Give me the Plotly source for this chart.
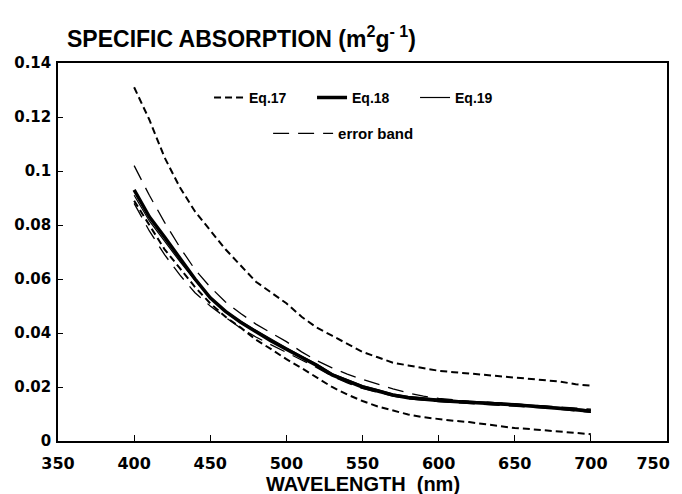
import plotly.graph_objects as go

wavelength = [400, 410, 420, 430, 440, 450, 460, 470, 480, 490, 500, 510, 520, 530, 540, 550,
              560, 570, 580, 590, 600, 610, 620, 630, 640, 650, 660, 670, 680, 690, 700]

eq17_upper = [0.131, 0.119, 0.105, 0.094, 0.085, 0.078, 0.071, 0.065, 0.059, 0.055, 0.051, 0.046,
              0.042, 0.039, 0.036, 0.033, 0.031, 0.029, 0.028, 0.027, 0.026, 0.0255, 0.025, 0.0245,
              0.024, 0.0235, 0.023, 0.0225, 0.022, 0.021, 0.0205]
eq17_lower = [0.089, 0.080, 0.071, 0.064, 0.057, 0.051, 0.046, 0.042, 0.0375, 0.034, 0.0303, 0.027,
              0.0235, 0.020, 0.0172, 0.0148, 0.0128, 0.0112, 0.0098, 0.0088, 0.0081, 0.0075, 0.007,
              0.0062, 0.0054, 0.0048, 0.0044, 0.004, 0.0035, 0.003, 0.0025]
eq18 = [0.093, 0.083, 0.0755, 0.0675, 0.060, 0.053, 0.048, 0.044, 0.0405, 0.037, 0.034, 0.031,
        0.028, 0.0245, 0.0222, 0.020, 0.0185, 0.017, 0.016, 0.0154, 0.015, 0.0146, 0.0142, 0.014,
        0.0137, 0.0134, 0.013, 0.0126, 0.0121, 0.0116, 0.011]
eq19 = [0.091, 0.0815, 0.074, 0.0665, 0.0595, 0.053, 0.0482, 0.0443, 0.041, 0.0376, 0.0345, 0.0315,
        0.0285, 0.025, 0.0227, 0.0205, 0.019, 0.0175, 0.0165, 0.0159, 0.0155, 0.0151, 0.0147,
        0.0144, 0.0141, 0.0138, 0.0134, 0.013, 0.0125, 0.012, 0.0114]
band_upper = [0.102, 0.091, 0.081, 0.0718, 0.0635, 0.057, 0.0515, 0.0472, 0.0433, 0.040, 0.0368,
              0.033, 0.0298, 0.0271, 0.0248, 0.0228, 0.021, 0.0193, 0.0178, 0.0166, 0.0158, 0.0152,
              0.0147, 0.0144, 0.0141, 0.0138, 0.0134, 0.013, 0.0126, 0.0122, 0.0118]
band_lower = [0.088, 0.0778, 0.069, 0.0615, 0.0549, 0.050, 0.0458, 0.0418, 0.0385, 0.0355, 0.0328,
              0.030, 0.0272, 0.024, 0.0215, 0.0195, 0.018, 0.0166, 0.0156, 0.015, 0.0146, 0.0142,
              0.0139, 0.0136, 0.0133, 0.013, 0.0126, 0.0122, 0.0117, 0.0112, 0.0106]

x_ticks = [350, 400, 450, 500, 550, 600, 650, 700, 750]
x_ticktext = ["350", "400", "450", "500", "550", "600", "650", "700",
              "750\u00a0\u00a0\u00a0\u00a0\u00a0"]
y_ticks = [0, 0.02, 0.04, 0.06, 0.08, 0.1, 0.12, 0.14]
y_ticktext = ["0", "0.02", "0.04", "0.06", "0.08", "0.1", "0.12", "0.14"]

FONT = "Liberation Sans, Arial, sans-serif"
TICKFONT = "DejaVu Sans, sans-serif"

fig = go.Figure()
band_dash = "16px,9px"
fig.add_trace(go.Scatter(x=wavelength, y=band_upper, mode="lines", name="error band",
                         line=dict(color="black", width=1.3, dash=band_dash),
                         legend="legend2", showlegend=True))
fig.add_trace(go.Scatter(x=wavelength, y=band_lower, mode="lines", name="error band",
                         line=dict(color="black", width=1.3, dash=band_dash),
                         legend="legend2", showlegend=False))
fig.add_trace(go.Scatter(x=wavelength, y=eq17_upper, mode="lines", name="Eq.17",
                         line=dict(color="black", width=2, dash="7px,4px"), legendrank=1))
fig.add_trace(go.Scatter(x=wavelength, y=eq17_lower, mode="lines", name="Eq.17",
                         line=dict(color="black", width=2, dash="7px,4px"), showlegend=False))
fig.add_trace(go.Scatter(x=wavelength, y=eq18, mode="lines", name="Eq.18",
                         line=dict(color="black", width=3.5), legendrank=2))
fig.add_trace(go.Scatter(x=wavelength, y=eq19, mode="lines", name="Eq.19",
                         line=dict(color="black", width=1.2), legendrank=3))

fig.update_layout(
    width=682, height=486,
    margin=dict(l=50, r=23, t=55, b=53, autoexpand=False),
    paper_bgcolor="white", plot_bgcolor="white",
    font=dict(family=FONT, color="black"),
    legend=dict(orientation="h", x=0.248, y=0.95, xanchor="left", yanchor="top",
                font=dict(size=14, family=FONT, weight="bold"), bgcolor="rgba(0,0,0,0)",
                entrywidth=58, traceorder="normal"),
    legend2=dict(orientation="h", x=0.345, y=0.857, xanchor="left", yanchor="top",
                 font=dict(size=15, family=FONT, weight="bold"), bgcolor="rgba(0,0,0,0)",
                 itemwidth=60),
    xaxis=dict(range=[350, 750], tickvals=x_ticks, ticktext=x_ticktext, ticks="inside",
               ticklen=6, tickwidth=1,
               tickcolor="black", showline=True, linecolor="black", linewidth=1.5, mirror=True,
               showgrid=False, zeroline=False, ticklabelstandoff=7, automargin=False,
               ticklabeloverflow="allow",
               tickfont=dict(size=16, family=TICKFONT, weight="bold")),
    yaxis=dict(range=[0, 0.14], tickvals=y_ticks, ticktext=y_ticktext, ticks="inside", ticklen=5,
               tickwidth=1, tickcolor="black", showline=True, linecolor="black", linewidth=1.5,
               mirror=True, showgrid=False, zeroline=False, ticklabelstandoff=2, automargin=False,
               tickfont=dict(size=15, family=TICKFONT, weight="bold")),
    annotations=[
        dict(text="SPECIFIC ABSORPTION (m<sup>2</sup>g<sup>- 1</sup>)", x=0.0115, y=1.025,
             xref="paper", yref="paper", xanchor="left", yanchor="bottom", showarrow=False,
             font=dict(size=23, family=FONT, weight="bold")),
        dict(text="WAVELENGTH  (nm)", x=0.5, y=-0.114, xref="paper", yref="paper",
             xanchor="center", yanchor="middle", showarrow=False,
             font=dict(size=20, family=FONT, weight="bold")),
    ],
)

fig.write_html("out.html")
